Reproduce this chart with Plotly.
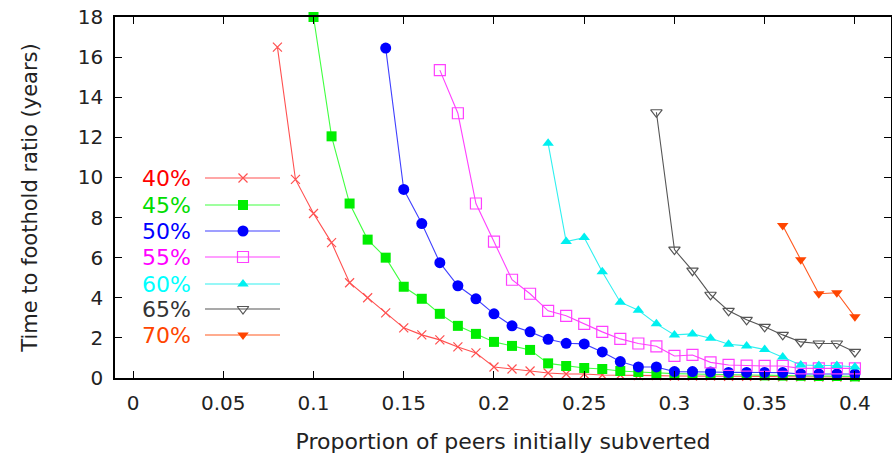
import plotly.graph_objects as go

# ---- data ----
labels = ["40%", "45%", "50%", "55%", "60%", "65%", "70%"]

x40 = [0.08, 0.09, 0.10, 0.11, 0.12, 0.13, 0.14, 0.15, 0.16, 0.17, 0.18, 0.19, 0.20,
       0.21, 0.22, 0.23, 0.24, 0.25, 0.26, 0.27, 0.28, 0.29, 0.30, 0.31, 0.32, 0.33,
       0.34, 0.35, 0.36, 0.37, 0.38, 0.39, 0.40]
y40 = [16.5, 9.9, 8.2, 6.75, 4.75, 4.0, 3.25, 2.5, 2.15, 1.9, 1.55, 1.25, 0.55,
       0.45, 0.35, 0.25, 0.2, 0.2, 0.15, 0.15, 0.12, 0.12, 0.1, 0.1, 0.1, 0.08,
       0.08, 0.08, 0.06, 0.06, 0.05, 0.05, 0.05]

x45 = [0.10, 0.11, 0.12, 0.13, 0.14, 0.15, 0.16, 0.17, 0.18, 0.19, 0.20, 0.21, 0.22,
       0.23, 0.24, 0.25, 0.26, 0.27, 0.28, 0.29, 0.30, 0.31, 0.32, 0.33, 0.34, 0.35,
       0.36, 0.37, 0.38, 0.39, 0.40]
y45 = [18.0, 12.05, 8.7, 6.9, 6.0, 4.55, 3.95, 3.2, 2.6, 2.2, 1.8, 1.6, 1.4,
       0.73, 0.6, 0.5, 0.45, 0.35, 0.3, 0.25, 0.22, 0.2, 0.18, 0.16, 0.15, 0.13,
       0.12, 0.11, 0.1, 0.1, 0.08]

x50 = [0.14, 0.15, 0.16, 0.17, 0.18, 0.19, 0.20, 0.21, 0.22, 0.23, 0.24, 0.25, 0.26,
       0.27, 0.28, 0.29, 0.30, 0.31, 0.32, 0.33, 0.34, 0.35, 0.36, 0.37, 0.38, 0.39,
       0.40]
y50 = [16.45, 9.4, 7.7, 5.75, 4.6, 3.95, 3.2, 2.6, 2.3, 1.93, 1.73, 1.7, 1.3,
       0.82, 0.55, 0.55, 0.32, 0.32, 0.3, 0.28, 0.28, 0.28, 0.27, 0.2, 0.2, 0.2,
       0.2]

x55 = [0.17, 0.18, 0.19, 0.20, 0.21, 0.22, 0.23, 0.24, 0.25, 0.26, 0.27, 0.28, 0.29,
       0.30, 0.31, 0.32, 0.33, 0.34, 0.35, 0.36, 0.37, 0.38, 0.39, 0.40]
y55 = [15.35, 13.2, 8.7, 6.8, 4.9, 4.2, 3.35, 3.1, 2.7, 2.3, 1.95, 1.72, 1.58,
       1.1, 1.15, 0.78, 0.65, 0.62, 0.6, 0.6, 0.48, 0.48, 0.48, 0.48]

x60 = [0.23, 0.24, 0.25, 0.26, 0.27, 0.28, 0.29, 0.30, 0.31, 0.32, 0.33, 0.34, 0.35,
       0.36, 0.37, 0.38, 0.39, 0.40]
y60 = [11.7, 6.8, 7.0, 5.3, 3.78, 3.38, 2.7, 2.15, 2.2, 1.98, 1.68, 1.6, 1.42,
       1.05, 0.65, 0.62, 0.62, 0.55]

x65 = [0.29, 0.30, 0.31, 0.32, 0.33, 0.34, 0.35, 0.36, 0.37, 0.38, 0.39, 0.40]
y65 = [13.25, 6.4, 5.35, 4.15, 3.35, 2.9, 2.55, 2.15, 1.8, 1.72, 1.72, 1.3]

x70 = [0.36, 0.37, 0.38, 0.39, 0.40]
y70 = [7.6, 5.9, 4.2, 4.25, 3.05]

x_ticks = [0, 0.05, 0.1, 0.15, 0.2, 0.25, 0.3, 0.35, 0.4]
x_tick_text = ["0", "0.05", "0.1", "0.15", "0.2", "0.25", "0.3", "0.35", "0.4"]
y_ticks = [0, 2, 4, 6, 8, 10, 12, 14, 16, 18]

# ---- styles ----
series = [
    (x40, y40, "#ff0000", "#ff5050", dict(symbol="x-thin-open", size=9, line=dict(width=1.2, color="#ff3030"))),
    (x45, y45, "#00dd00", "#40ff40", dict(symbol="square", size=10, color="#00ee00", line=dict(width=0))),
    (x50, y50, "#0000ff", "#4040ff", dict(symbol="circle", size=11, color="#0000ff", line=dict(width=0))),
    (x55, y55, "#ff00ff", "#ff40ff", dict(symbol="square-open", size=11, line=dict(width=1.2, color="#ff40ff"))),
    (x60, y60, "#00ffff", "#30f0f0", dict(symbol="triangle-up", size=10, color="#00f0f0", line=dict(width=0))),
    (x65, y65, "#333333", "#555555", dict(symbol="triangle-down-open", size=10, line=dict(width=1.2, color="#555555"))),
    (x70, y70, "#ff4500", "#ff5a20", dict(symbol="triangle-down", size=10, color="#ff4500", line=dict(width=0))),
]

FONT = "DejaVu Sans"
L, R, T, B = 115, 1, 17, 81
W, H = 892, 459

fig = go.Figure()
for (xs, ys, tcol, lcol, mk), lab in zip(series, labels):
    m = dict(mk)
    if "color" not in m:
        m["color"] = lcol
    fig.add_trace(go.Scatter(x=xs, y=ys, mode="lines+markers", name=lab,
                             line=dict(color=lcol, width=1.1), marker=m,
                             showlegend=False, cliponaxis=False))

# legend drawn in pixel space on overlay axes
leg_y = [178, 205, 231, 257, 284, 309, 335]
leg_x0, leg_x1, leg_xm, leg_text_x = 205, 280, 243, 193
for (xs, ys, tcol, lcol, mk), lab, ly in zip(series, labels, leg_y):
    m = dict(mk)
    if "color" not in m:
        m["color"] = lcol
    fig.add_trace(go.Scatter(x=[leg_x0, leg_x1], y=[ly, ly], mode="lines",
                             line=dict(color=lcol, width=1.1), xaxis="x2", yaxis="y2",
                             showlegend=False, hoverinfo="skip"))
    fig.add_trace(go.Scatter(x=[leg_xm], y=[ly], mode="markers", marker=m,
                             xaxis="x2", yaxis="y2", showlegend=False, hoverinfo="skip"))
    fig.add_annotation(x=leg_text_x, y=ly, xref="x2", yref="y2", text=lab,
                       showarrow=False, xanchor="right", yanchor="middle",
                       font=dict(family=FONT, size=22, color=tcol))

axis_common = dict(showline=True, linecolor="black", linewidth=1.5, mirror="ticks",
                   ticks="inside", ticklen=7, tickcolor="black", tickwidth=1.2,
                   showgrid=False, zeroline=False, automargin=False,
                   tickfont=dict(family=FONT, size=20, color="#222222"))

fig.update_layout(
    width=W, height=H,
    margin=dict(l=L, r=R, t=T, b=B),
    paper_bgcolor="white", plot_bgcolor="white",
    xaxis=dict(range=[-0.01, 0.42], tickvals=x_ticks, ticktext=x_tick_text,
               title=dict(text="Proportion of peers initially subverted",
                          font=dict(family=FONT, size=22, color="#222222"), standoff=20),
               ticklabelstandoff=6,
               **axis_common),
    yaxis=dict(range=[0, 18], tickvals=y_ticks,
               title=dict(text="Time to foothold ratio (years)",
                          font=dict(family=FONT, size=21, color="#222222"), standoff=34),
               ticklabelstandoff=6,
               **axis_common),
    xaxis2=dict(overlaying="x", range=[L, W - R], visible=False, fixedrange=True),
    yaxis2=dict(overlaying="y", range=[H - B, T], visible=False, fixedrange=True),
)

fig.write_html("out.html", config={"displayModeBar": False})

# remove default page margins / scrollbars so the figure sits at the window origin
with open("out.html", "r", encoding="utf-8") as f:
    html = f.read()
html = html.replace("<head>", "<head><style>html,body{margin:0;padding:0;overflow:hidden;}</style>", 1)
with open("out.html", "w", encoding="utf-8") as f:
    f.write(html)
